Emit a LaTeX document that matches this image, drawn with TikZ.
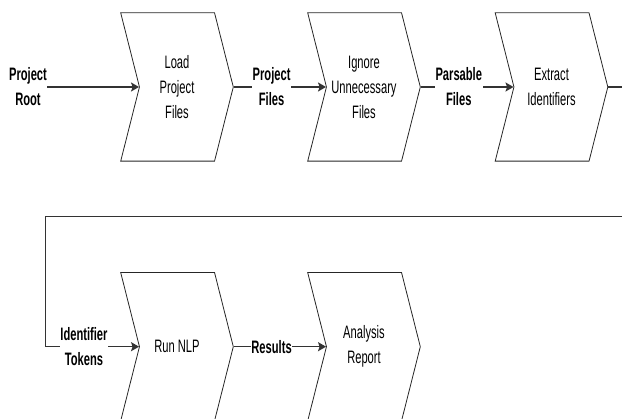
\documentclass[tikz,border=0pt]{standalone}
\usepackage{fontspec}
\setmainfont[FakeStretch=0.62]{Liberation Sans}
\usetikzlibrary{shapes.symbols,arrows.meta}
\tikzset{
    stepshape/.style={draw=black!85,signal,signal from=west,signal to=east,signal pointer angle=151.6,minimum width=112.6pt,minimum height=148.3pt,inner sep=0pt,align=center,line width=0.8pt,font=\fontsize{18}{25}\selectfont},
    flowlabel/.style={fill=white,align=center,inner sep=0.5pt,font=\fontsize{18}{25}\selectfont\bfseries},
    flowline/.style={draw=black!80,line width=1.3pt,-{Stealth[length=8pt,width=9pt,inset=1.5pt]}},
}

\begin{document}
\begin{tikzpicture}[x=1pt,y=-1pt]
    \clip (0,0) rectangle (622,419); % page size

    \node[stepshape] (load) at (177,87) {Load\\Project\\Files}; % first row
    \node[stepshape] (ignore) at (364,87) {Ignore\\Unnecessary\\Files};
    \node[stepshape] (extract) at (551.5,87) {Extract\\Identifiers};

    \node[stepshape] (nlp) at (177,346.7) {Run NLP}; % second row
    \node[stepshape] (report) at (364,346.7) {Analysis\\Report};

    \node[flowlabel,fill=none,inner sep=0pt] (root) at (28,87) {Project\\Root};
    \coordinate (backR) at (640,216.7);
    \coordinate (backL) at (45.7,216.7);

    \draw[flowline] (root.east) -- (load.west);
    \draw[flowline] (load.east) -- (ignore.west) node[flowlabel,pos=0.41] {Project\\Files};
    \draw[flowline] (ignore.east) -- (extract.west) node[flowlabel,pos=0.41] {Parsable\\Files};
    \draw[flowline] (extract.east) -| (backR) -- (backL) -- (backL |- nlp.west) -- (nlp.west)
        node[flowlabel,pos=0.41] {Identifier\\Tokens};
    \draw[flowline] (nlp.east) -- (report.west) node[flowlabel,pos=0.41] {Results};
\end{tikzpicture}
\end{document}
